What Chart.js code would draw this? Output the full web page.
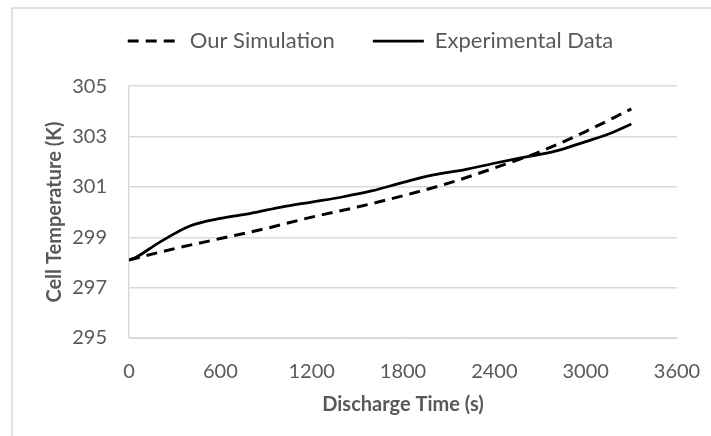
<!DOCTYPE html>
<html>
<head>
<meta charset="utf-8">
<script src="https://cdn.jsdelivr.net/npm/chart.js@4.4.1/dist/chart.umd.min.js"></script>
<style>
  html, body { margin: 0; padding: 0; background: #ffffff; }
  #wrap { width: 711px; height: 436px; }
</style>
</head>
<body>
<div id="wrap"><canvas id="temp_chart" width="711" height="436"></canvas></div>
<script>
// values
const simTime = [0, 300, 600, 900, 1200, 1500, 1800, 2100, 2400, 2700, 3000, 3300];
const simTemp = [298.1, 298.55, 298.95, 299.35, 299.8, 300.2, 300.65, 301.15, 301.75, 302.4, 303.2, 304.1];

const expTime = [0, 50, 200, 400, 600, 800, 1000, 1200, 1400, 1600, 1800, 2000, 2200, 2400, 2600, 2800, 3000, 3150, 3300];
const expTemp = [298.1, 298.22, 298.8, 299.45, 299.75, 299.95, 300.2, 300.4, 300.6, 300.85, 301.18, 301.48, 301.68, 301.94, 302.18, 302.42, 302.8, 303.1, 303.5];

const xTicks = [0, 600, 1200, 1800, 2400, 3000, 3600];
const yTicks = [295, 297, 299, 301, 303, 305];

const textColor = "#595959";
const gridColor = "#d9d9d9";
const fontFamily = "Lato, 'Open Sans', sans-serif";

// outer frame of the chart (runs off the right and bottom edge)
const framePlugin = {
    id: "frame",
    beforeDraw(chart) {
        const ctx = chart.ctx;
        ctx.save();
        ctx.fillStyle = "#ffffff";
        ctx.fillRect(0, 0, chart.width, chart.height);
        ctx.strokeStyle = gridColor;
        ctx.lineWidth = 1.5;
        ctx.strokeRect(12, 8, 800, 600);
        ctx.restore();
    },
};

var ctxTemp = document.getElementById("temp_chart").getContext("2d");

new Chart(ctxTemp, {
    type: "line",
    data: {
        datasets: [
            {
                label: "Our Simulation",
                data: simTime.map((t, i) => ({ x: t, y: simTemp[i] })),
                borderColor: "#000000",
                backgroundColor: "#000000",
                borderWidth: 3,
                borderDash: [11, 7],
                pointRadius: 0,
                cubicInterpolationMode: "monotone",
                fill: false,
            },
            {
                label: "Experimental Data",
                data: expTime.map((t, i) => ({ x: t, y: expTemp[i] })),
                borderColor: "#000000",
                backgroundColor: "#000000",
                borderWidth: 2.75,
                pointRadius: 0,
                cubicInterpolationMode: "monotone",
                fill: false,
            },
        ],
    },
    options: {
        responsive: false,
        animation: false,
        layout: {
            padding: { left: 30, right: 0, top: -8, bottom: 0 },
        },
        plugins: {
            tooltip: { enabled: false },
            legend: {
                position: "top",
                labels: {
                    usePointStyle: true,
                    pointStyle: "line",
                    pointStyleWidth: 51,
                    boxHeight: 10,
                    padding: 38,
                    color: textColor,
                    font: { family: fontFamily, size: 22 },
                    // keep the dash of each dataset in its legend sample
                    generateLabels: (chart) => {
                        const items = Chart.defaults.plugins.legend.labels.generateLabels(chart);
                        items.forEach((item) => {
                            const ds = chart.data.datasets[item.datasetIndex];
                            item.lineDash = ds.borderDash || [];
                            item.lineWidth = ds.borderWidth;
                            item.strokeStyle = ds.borderColor;
                            item.pointStyle = "line";
                        });
                        return items;
                    },
                },
            },
            // empty spacer between legend and plot area
            subtitle: {
                display: true,
                text: "",
                weight: 500,
                font: { size: 1 },
                padding: { top: 0, bottom: 23 },
            },
        },
        scales: {
            x: {
                type: "linear",
                min: 0,
                max: 3600,
                afterBuildTicks: (axis) => {
                    axis.ticks = xTicks.map((v) => ({ value: v }));
                },
                afterFit: (axis) => {
                    axis.height = 98;
                    // the right margin is reserved by yRight
                    axis.paddingRight = 0;
                    axis.paddingLeft = 0;
                },
                grid: { display: false, drawTicks: false },
                border: { display: true, color: gridColor, width: 1 },
                ticks: {
                    color: textColor,
                    padding: 22,
                    maxRotation: 0,
                    font: { family: fontFamily, size: 20 },
                    callback: (value) => String(value),
                },
                title: {
                    display: true,
                    text: "Discharge Time (s)",
                    color: textColor,
                    padding: { top: 0, bottom: 19 },
                    font: { family: fontFamily, size: 20, weight: "bold" },
                },
            },
            y: {
                min: 295,
                max: 305,
                afterBuildTicks: (axis) => {
                    axis.ticks = yTicks.map((v) => ({ value: v }));
                },
                afterFit: (axis) => {
                    axis.width = 99;
                },
                grid: { color: gridColor, lineWidth: 1.5, drawTicks: false },
                border: { display: true, color: gridColor, width: 1.5 },
                ticks: {
                    color: textColor,
                    padding: 22,
                    font: { family: fontFamily, size: 20 },
                    callback: (value) => String(value),
                },
                title: {
                    display: true,
                    text: "Cell Temperature (K)",
                    color: textColor,
                    padding: { top: 13, bottom: 0 },
                    font: { family: fontFamily, size: 20, weight: "bold" },
                },
            },
            // empty axis that only reserves the space right of the plot
            yRight: {
                position: "right",
                display: true,
                grid: { display: false, drawTicks: false },
                border: { display: false },
                ticks: { display: false },
                afterFit: (axis) => {
                    axis.width = 34;
                },
            },
        },
    },
    plugins: [framePlugin],
});
</script>
</body>
</html>
